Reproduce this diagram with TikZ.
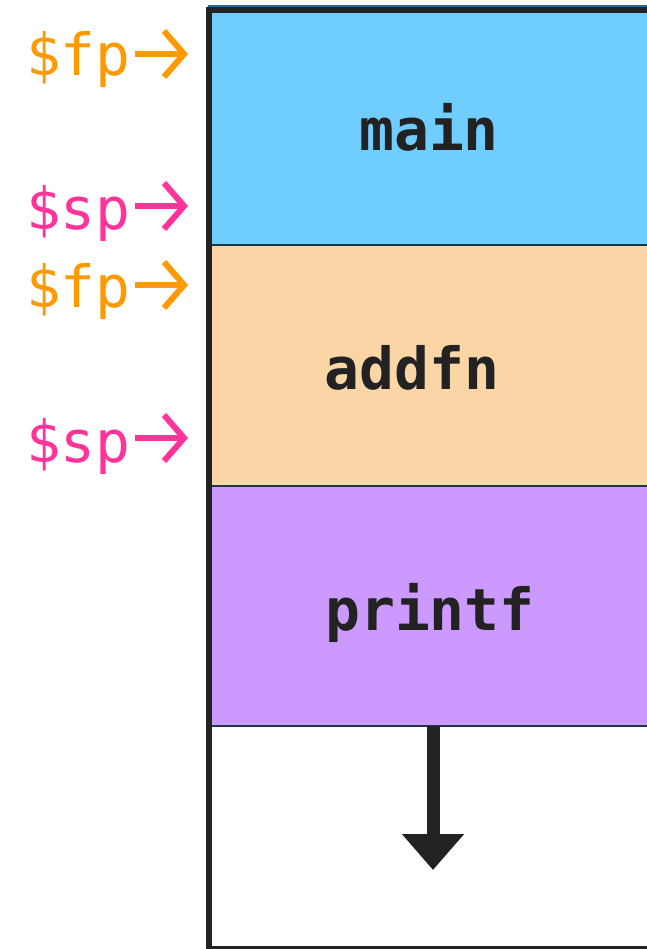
\documentclass[tikz,border=0pt]{standalone}
\usepackage{fontspec}
\setmonofont{DejaVu Sans Mono}
\usetikzlibrary{arrows.meta}
\definecolor{inkdark}{HTML}{222222}
\definecolor{edgedark}{HTML}{1E3A40}
\definecolor{edgeblue}{HTML}{1F6E9C}
\definecolor{mainblue}{HTML}{6FCDFF}
\definecolor{peach}{HTML}{FAD5A5}
\definecolor{lilac}{HTML}{CC99FF}
\definecolor{fporange}{HTML}{FF9900}
\definecolor{sppink}{HTML}{FF3399}
\tikzset{
  frame/.style={draw=edgedark, line width=2pt, anchor=north west,
    minimum width=460pt, minimum height=#1, inner sep=0pt, outer sep=0pt},
  fname/.style={font=\ttfamily\bfseries\fontsize{58}{58}\selectfont, text=inkdark, inner sep=0pt, anchor=base},
  reg/.style={font=\ttfamily\fontsize{58}{58}\selectfont, anchor=base east, inner sep=0pt},
  fplabel/.style={reg, text=fporange},
  splabel/.style={reg, text=sppink},
  ptr/.style={line width=6pt, -{Straight Barb[length=20pt,width=46pt,line cap=butt]}},
}
\begin{document}
\begin{tikzpicture}[x=1pt,y=-1pt]
\useasboundingbox (0,0) rectangle (646,949);
% stack frames
\node[frame=235pt, fill=mainblue] (main) at (208,10) {};
\node[frame=241pt, fill=peach] (addfn) at (208,245) {};
\node[frame=240pt, fill=lilac] (printf) at (208,486) {};
% outer stack region
\draw[edgeblue, line width=2pt] (208,6) -- (670,6);
\draw[inkdark, line width=3pt] (208,947) -- (670,947);
\draw[inkdark, line width=6pt] (208,10) -- (670,10);
\draw[inkdark, line width=6pt] (209,7) -- (209,949);
% frame names
\node[fname] (tmain) at (429,151) {main};
\node[fname] (taddfn) at (412,389) {addfn};
\node[fname] (tprintf) at (430,630) {printf};
% growth direction
\coordinate (growstart) at (433,726);
\coordinate (growtip) at (433,870);
\draw[inkdark, line width=13pt, -{Triangle[width=60pt,length=36pt]}] (growstart) -- (growtip);
% register labels
\node[fplabel] (fp1) at (131,76) {\$fp};
\node[splabel] (sp1) at (131,230) {\$sp};
\node[fplabel] (fp2) at (131,307) {\$fp};
\node[splabel] (sp2) at (131,462) {\$sp};
% register pointers
\coordinate (fp1a) at (135,54);  \coordinate (fp1b) at (188,54);
\coordinate (sp1a) at (135,206); \coordinate (sp1b) at (188,206);
\coordinate (fp2a) at (135,285); \coordinate (fp2b) at (188,285);
\coordinate (sp2a) at (135,438); \coordinate (sp2b) at (188,438);
\draw[ptr, fporange] (fp1a) -- (fp1b);
\draw[ptr, sppink] (sp1a) -- (sp1b);
\draw[ptr, fporange] (fp2a) -- (fp2b);
\draw[ptr, sppink] (sp2a) -- (sp2b);
\end{tikzpicture}
\end{document}
